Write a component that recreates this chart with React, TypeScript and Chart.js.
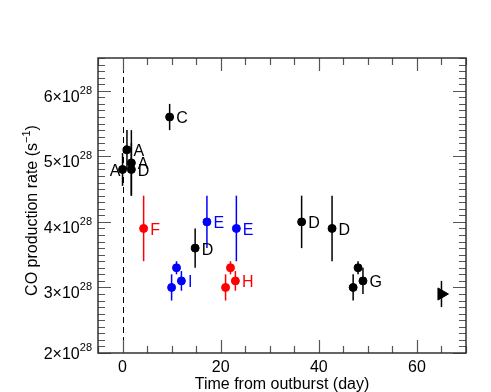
import React, { useEffect, useRef } from 'react';
import { Chart, registerables } from 'chart.js';

Chart.register(...registerables);

// ---- Data (CO production rate in units of 1e28 s^-1, time in days) ----
const blackDays = [0, 0.9, 1.8, 1.8, 9.6, 14.8, 36.5, 42.7, 47, 48, 49];
const blackRates = [4.8, 5.1, 4.9, 4.8, 5.6, 3.6, 4.0, 3.9, 3.0, 3.3, 3.1];
const blackErrors = [0.25, 0.3, 0.5, 0.4, 0.2, 0.3, 0.4, 0.5, 0.2, 0.1, 0.2];
const blackLabels = ['A', 'A', 'A', 'D', 'C', 'D', 'D', 'D', '', '', 'G'];

const blueDays = [10, 11, 12, 17.2, 23.2];
const blueRates = [3.0, 3.3, 3.1, 4.0, 3.9];
const blueErrors = [0.2, 0.1, 0.15, 0.4, 0.5];
const blueLabels = ['', '', 'I', 'E', 'E'];

const redDays = [4.3, 21, 22, 23];
const redRates = [3.9, 3.0, 3.3, 3.1];
const redErrors = [0.5, 0.2, 0.1, 0.15];
const redLabels = ['F', '', '', 'H'];

const lateDays = [65];
const lateRates = [2.9];
const lateErrors = [0.2];
const lateLabels = [''];

const xTickValues = [0, 20, 40, 60];
const yTickValues = [2, 3, 4, 5, 6];
const yExponent = '28';
const xTitle = 'Time from outburst (day)';
const yTitle = 'CO production rate (s';
const yTitleSup = '\u22121';

const X_MIN = -5;
const X_MAX = 70;
const Y_MIN = 2;
const Y_MAX = 6.5;

const FONT = '"Liberation Sans", Arial, Helvetica, sans-serif';

function pts(days: number[], rates: number[], errs: number[], labels: string[]) {
  return days.map((d, i) => ({ x: d, y: rates[i], err: errs[i], label: labels[i], first: i === 0 }));
}

const idlPlugin = {
  id: 'idlStyle',
  beforeDatasetsDraw(chart: any) {
    const { ctx, chartArea: a, scales } = chart;
    const x = scales.x;
    const y = scales.y;
    ctx.save();
    // dashed line at outburst
    ctx.strokeStyle = '#000';
    ctx.lineWidth = 1;
    ctx.setLineDash([6, 4]);
    const x0 = Math.round(x.getPixelForValue(0)) + 0.5;
    ctx.beginPath();
    ctx.moveTo(x0, a.bottom);
    ctx.lineTo(x0, a.top);
    ctx.stroke();
    ctx.setLineDash([]);
    // error bars
    chart.data.datasets.forEach((ds: any) => {
      ctx.strokeStyle = ds.borderColor;
      ctx.lineWidth = 1.5;
      ds.data.forEach((p: any) => {
        const px = x.getPixelForValue(p.x);
        ctx.beginPath();
        ctx.moveTo(px, y.getPixelForValue(p.y - p.err));
        ctx.lineTo(px, y.getPixelForValue(p.y + p.err));
        ctx.stroke();
      });
    });
    ctx.restore();
  },
  afterDatasetsDraw(chart: any) {
    const { ctx, scales } = chart;
    const x = scales.x;
    const y = scales.y;
    ctx.save();
    ctx.font = `16px ${FONT}`;
    ctx.textBaseline = 'middle';
    chart.data.datasets.forEach((ds: any, di: number) => {
      ctx.fillStyle = ds.borderColor;
      ds.data.forEach((p: any) => {
        if (!p.label) return;
        const px = x.getPixelForValue(p.x);
        const py = y.getPixelForValue(p.y);
        if (di === 0 && p.first) {
          ctx.textAlign = 'right';
          ctx.fillText(p.label, px - 2, py + 2);
        } else {
          ctx.textAlign = 'left';
          ctx.fillText(p.label, px + 6.5, py + 2);
        }
      });
    });
    ctx.restore();
  },
  afterDraw(chart: any) {
    const { ctx, chartArea: a, scales } = chart;
    const x = scales.x;
    const y = scales.y;
    ctx.save();
    // ticks (inward, all four sides)
    ctx.strokeStyle = '#555';
    ctx.lineWidth = 1.2;
    for (let i = Math.round(Y_MIN * 10); i <= Math.round(Y_MAX * 10); i++) {
      const py = Math.round(y.getPixelForValue(i / 10)) + 0.5;
      const len = i % 10 === 0 ? 13 : 7;
      ctx.beginPath();
      ctx.moveTo(a.left, py);
      ctx.lineTo(a.left + len, py);
      ctx.moveTo(a.right, py);
      ctx.lineTo(a.right - len, py);
      ctx.stroke();
    }
    for (let v = X_MIN; v <= X_MAX; v += 5) {
      const px = Math.round(x.getPixelForValue(v)) + 0.5;
      const len = v % 20 === 0 ? 13 : 7;
      ctx.beginPath();
      ctx.moveTo(px, a.bottom);
      ctx.lineTo(px, a.bottom - len);
      ctx.moveTo(px, a.top);
      ctx.lineTo(px, a.top + len);
      ctx.stroke();
    }
    // frame
    ctx.strokeStyle = '#333';
    ctx.lineWidth = 1.5;
    ctx.strokeRect(a.left, a.top, a.right - a.left, a.bottom - a.top);

    // x tick labels
    ctx.fillStyle = '#000';
    ctx.font = `16px ${FONT}`;
    ctx.textAlign = 'center';
    ctx.textBaseline = 'alphabetic';
    xTickValues.forEach((v) => {
      ctx.fillText(String(v), x.getPixelForValue(v), a.bottom + 19);
    });
    // x title
    ctx.fillText(xTitle, (a.left + a.right) / 2, a.bottom + 36);

    // y tick labels with superscript exponent
    yTickValues.forEach((v) => {
      const py = y.getPixelForValue(v);
      const base = Math.min(py + 11, a.bottom + 6);
      ctx.font = `11px ${FONT}`;
      const supW = ctx.measureText(yExponent).width;
      const right = a.left - 6;
      ctx.textAlign = 'left';
      ctx.fillText(yExponent, right - supW, base - 8);
      ctx.font = `16px ${FONT}`;
      ctx.textAlign = 'right';
      ctx.fillText(`${v}\u00d710`, right - supW, base);
    });

    // y title, rotated, with superscript
    ctx.font = `16px ${FONT}`;
    const w1 = ctx.measureText(yTitle).width;
    const w3 = ctx.measureText(')').width;
    ctx.font = `11px ${FONT}`;
    const w2 = ctx.measureText(yTitleSup).width;
    const total = w1 + w2 + w3;
    const cy = (a.top + a.bottom) / 2 + 5;
    ctx.translate(37, cy);
    ctx.rotate(-Math.PI / 2);
    ctx.textAlign = 'left';
    let u = -total / 2;
    ctx.font = `16px ${FONT}`;
    ctx.fillText(yTitle, u, 0);
    u += w1;
    ctx.font = `11px ${FONT}`;
    ctx.fillText(yTitleSup, u, -7);
    u += w2;
    ctx.font = `16px ${FONT}`;
    ctx.fillText(')', u, 0);
    ctx.restore();
  },
};

export default function App() {
  const ref = useRef<HTMLCanvasElement | null>(null);
  useEffect(() => {
    if (!ref.current) return;
    const mk = (data: any[], color: string, style: string, radius: number, rotation = 0) => ({
      data,
      borderColor: color,
      backgroundColor: color,
      pointStyle: style,
      pointRadius: radius,
      pointRotation: rotation,
      pointBorderWidth: 1,
      showLine: false,
    });
    const chart = new Chart(ref.current, {
      type: 'scatter',
      data: {
        datasets: [
          mk(pts(blackDays, blackRates, blackErrors, blackLabels), '#000000', 'circle', 4),
          mk(pts(blueDays, blueRates, blueErrors, blueLabels), '#0000ff', 'circle', 4),
          mk(pts(redDays, redRates, redErrors, redLabels), '#ff0000', 'circle', 4),
          mk(pts(lateDays, lateRates, lateErrors, lateLabels), '#000000', 'triangle', 7, 90),
        ] as any,
      },
      options: {
        responsive: false,
        animation: false,
        devicePixelRatio: 1,
        layout: { padding: { left: 98, right: 25, top: 58, bottom: 39 } },
        scales: {
          x: { type: 'linear', min: X_MIN, max: X_MAX, display: false },
          y: { type: 'linear', min: Y_MIN, max: Y_MAX, display: false },
        },
        plugins: { legend: { display: false }, tooltip: { enabled: false } },
      },
      plugins: [idlPlugin],
    } as any);
    return () => chart.destroy();
  }, []);
  return (
    <canvas
      ref={ref}
      width={491}
      height={392}
      style={{ position: 'absolute', left: 0, top: 0, width: 491, height: 392, background: '#fff' }}
    />
  );
}
